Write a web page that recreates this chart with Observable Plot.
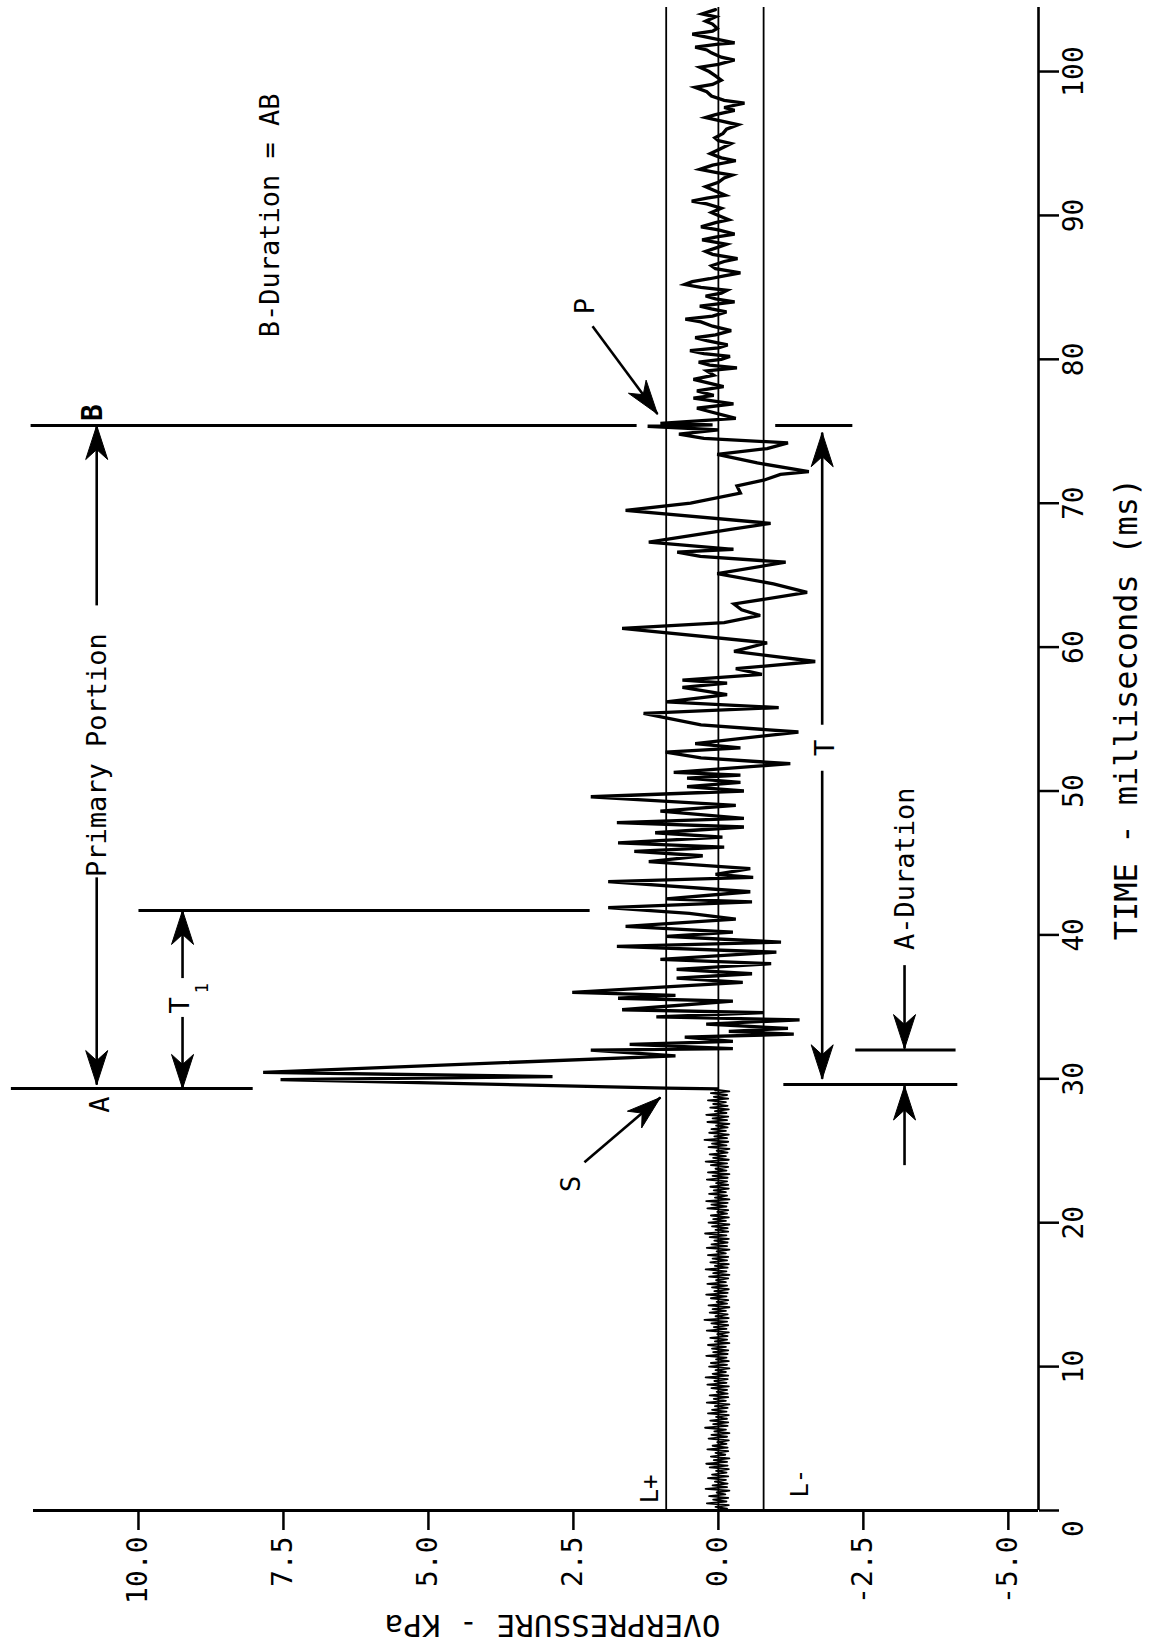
<!DOCTYPE html>
<html><head><meta charset="utf-8">
<script src="https://cdn.jsdelivr.net/npm/d3@7"></script>
<script src="https://cdn.jsdelivr.net/npm/@observablehq/plot@0.6"></script>
<style>
html,body{margin:0;padding:0;background:#fff;}
#chart{width:1152px;height:1648px;overflow:hidden;}
</style></head><body><div id="chart"></div>
<script>
// ---------- data ----------
const pressureTicks = [10, 7.5, 5, 2.5, 0, -2.5, -5];
const timeTicks = [0, 10, 20, 30, 40, 50, 60, 70, 80, 90, 100];
const limitLevels = [0.9, 0, -0.78]; // L+, baseline, L-
const xDomain = [11.81, -5.52];
const yDomain = [0, 104.45];

// pre-shock background noise, sampled every preStep ms from 0
const preStep = 0.125;
const prePressure = [
0.12,-0.15,0.05,-0.18,0.20,-0.14,0.09,-0.17,0.16,-0.12,
0.03,-0.19,0.22,-0.15,0.10,-0.16,0.06,-0.13,0.18,-0.17,
0.11,-0.14,0.04,-0.18,0.15,-0.16,0.21,-0.15,0.08,-0.19,
0.13,-0.12,0.05,-0.17,0.19,-0.16,0.10,-0.14,0.02,-0.18,
0.17,-0.15,0.12,-0.19,0.07,-0.13,0.23,-0.16,0.09,-0.17,
0.14,-0.15,0.04,-0.18,0.18,-0.14,0.11,-0.16,0.06,-0.19,
0.20,-0.13,0.08,-0.17,0.15,-0.16,0.03,-0.15,0.12,-0.18,
0.19,-0.14,0.07,-0.16,0.22,-0.17,0.10,-0.13,0.05,-0.19,
0.16,-0.15,0.13,-0.18,0.04,-0.14,0.21,-0.16,0.09,-0.17,
0.11,-0.13,0.18,-0.19,0.06,-0.15,0.14,-0.16,0.02,-0.18,
0.20,-0.14,0.08,-0.17,0.12,-0.15,0.24,-0.18,0.05,-0.16,
0.15,-0.13,0.10,-0.19,0.17,-0.15,0.03,-0.17,0.13,-0.14,
0.21,-0.16,0.07,-0.18,0.11,-0.15,0.19,-0.13,0.04,-0.17,
0.16,-0.19,0.09,-0.14,0.22,-0.16,0.06,-0.18,0.14,-0.15,
0.10,-0.17,0.18,-0.13,0.03,-0.19,0.20,-0.15,0.12,-0.16,
0.07,-0.18,0.15,-0.14,0.23,-0.17,0.05,-0.16,0.11,-0.19,
0.17,-0.13,0.09,-0.18,0.13,-0.15,0.02,-0.17,0.19,-0.14,
0.12,-0.16,0.21,-0.19,0.06,-0.15,0.16,-0.13,0.08,-0.18,
0.14,-0.17,0.04,-0.15,0.20,-0.16,0.10,-0.19,0.18,-0.14,
0.05,-0.17,0.13,-0.15,0.22,-0.18,0.09,-0.13,0.15,-0.16,
0.03,-0.19,0.17,-0.14,0.11,-0.17,0.24,-0.15,0.07,-0.18,
0.16,-0.13,0.12,-0.16,0.04,-0.19,0.19,-0.15,0.10,-0.17,
0.21,-0.14,0.06,-0.18,0.14,-0.16,0.09,-0.13,0.18,-0.17,
0.08,-0.15,0.13,-0.19,0.05];

// blast record after the shock: [time ms, overpressure kPa]
const postRecord = [
[29.3,0.0],[29.35,0.9],[29.95,7.55],[30.15,2.86],[30.45,7.85],[31.6,0.74],[32.0,2.2],[32.1,-0.25],
[32.4,1.53],[32.6,-0.25],[32.9,0.58],[33.1,-1.3],[33.3,-0.18],[33.5,-1.2],[33.8,0.21],[34.1,-1.4],
[34.3,1.07],[34.6,-0.78],[34.8,1.66],[35.4,-0.25],[35.6,1.73],[35.8,0.74],[36.0,2.52],[36.7,-0.42],
[37.0,0.72],[37.3,-0.58],[37.6,0.72],[38.0,-0.91],[38.3,1.0],[38.8,-1.0],[39.2,1.75],[39.5,-1.08],
[39.9,0.9],[40.2,-0.25],[40.6,1.6],[41.1,-0.3],[41.5,0.5],[41.9,1.9],[42.3,-0.58],[42.5,0.9],
[43.0,-0.55],[43.7,1.9],[44.0,-0.6],[44.2,0.05],[44.6,-0.55],[45.1,1.2],[45.5,0.27],[45.8,1.45],
[46.1,-0.1],[46.4,1.73],[46.8,-0.07],[47.1,1.09],[47.5,-0.44],[47.8,1.75],[48.1,-0.44],[48.6,1.0],
[49.0,-0.3],[49.6,2.2],[50.0,-0.44],[50.3,0.54],[50.6,-0.38],[50.9,0.54],[51.1,-0.38],[51.3,0.77],
[51.9,-1.24],[52.3,0.3],[52.7,0.91],[53.0,-0.38],[53.3,0.4],[54.1,-1.38],[54.6,0.3],[55.4,1.29],
[55.8,-1.04],[56.2,0.9],[56.7,-0.15],[57.2,0.62],[57.5,-0.15],[57.7,0.62],[58.1,-0.75],[58.5,-0.3],
[59.0,-1.67],[59.7,-0.27],[60.3,-0.84],[61.3,1.66],[61.7,-0.1],[62.2,-0.72],[62.6,-0.4],[63.0,-0.27],
[63.8,-1.53],[64.4,-0.95],[65.1,0.02],[65.9,-1.16],[66.3,0.31],[66.6,0.71],[66.8,-0.26],[67.3,1.2],
[68.2,-0.24],[68.6,-0.9],[69.5,1.6],[70.0,0.48],[70.7,-0.38],[71.2,-0.32],[71.6,-0.78],[72.0,-1.07],
[72.2,-1.56],[72.8,-0.67],[73.4,0.02],[73.8,-0.84],[74.2,-1.2],[74.5,0.25],[74.8,0.68],[75.1,0.0],
[75.35,1.22],[75.45,0.1],[75.55,1.0],[75.9,-0.3],[76.6,0.37],[76.9,-0.26],[77.3,0.43],[77.5,0.08],
[77.8,0.37],[78.1,-0.09],[78.6,0.43],[78.9,0.08],[79.2,0.2],[79.4,-0.32],[79.6,0.15],[79.8,0.34],
[80.0,-0.05],[80.2,-0.2],[80.4,0.25],[80.6,0.49],[80.8,0.0],[81.0,-0.16],[81.3,0.2],[81.5,0.4],
[81.7,0.05],[82.0,-0.22],[82.3,0.1],[82.6,0.3],[82.8,0.57],[83.0,0.1],[83.3,-0.14],[83.5,0.12],
[83.7,0.32],[84.0,-0.28],[84.2,0.05],[84.4,0.22],[84.6,-0.05],[84.8,-0.15],[85.0,0.3],[85.2,0.58],
[85.4,0.45],[85.6,0.15],[85.8,-0.1],[86.0,-0.38],[86.3,0.05],[86.5,0.12],[86.8,-0.1],[87.0,-0.33],
[87.3,0.1],[87.5,0.22],[87.8,0.0],[88.0,-0.14],[88.3,0.28],[88.5,0.05],[88.7,-0.28],[89.0,0.0],
[89.2,0.3],[89.5,0.05],[89.7,-0.18],[90.0,0.0],[90.2,0.12],[90.5,-0.05],[90.8,0.2],[91.0,0.46],
[91.2,0.2],[91.4,-0.12],[91.7,0.05],[92.0,0.22],[92.3,0.0],[92.6,-0.1],[92.8,-0.24],[93.0,0.05],
[93.2,0.32],[93.5,0.1],[93.8,-0.3],[94.0,-0.05],[94.3,0.14],[94.6,-0.02],[95.0,-0.22],[95.2,0.0],
[95.4,0.06],[95.7,-0.08],[96.0,-0.14],[96.3,-0.34],[96.6,0.0],[96.8,0.22],[97.0,0.05],[97.3,-0.28],
[97.5,-0.1],[97.8,-0.45],[98.0,-0.1],[98.3,0.12],[98.6,0.2],[98.9,0.4],[99.1,0.1],[99.4,-0.05],
[99.7,0.05],[100.0,0.16],[100.3,0.32],[100.5,0.0],[100.8,-0.28],[101.0,-0.05],[101.3,0.12],[101.5,0.2],
[101.7,0.4],[101.9,0.0],[102.0,-0.28],[102.3,0.1],[102.6,0.45],[102.8,0.1],[103.0,0.02],[103.3,0.1],
[103.5,0.22],[103.8,0.05],[104.0,0.28],[104.3,0.05]];

// annotation geometry in data units (pressure kPa, time ms)
const segName = ["A", "B", "T1", "T top", "T bottom", "A-Duration top"];
const segTime = [29.33, 75.4, 41.7, 75.4, 29.6, 32.0];
const segFrom = [12.2, 11.86, 10.0, -0.98, -1.12, -2.36];
const segTo   = [8.03, 1.41, 2.22, -2.31, -4.12, -4.09];

const arrowName = ["Primary up","Primary down","T1 up","T1 down","T up","T down","A-Dur down","A-Dur up","P","S"];
const arrowTailP = [10.72, 10.72, 9.24, 9.24, -1.79, -1.79, -3.21, -3.21, 2.17, 2.31];
const arrowTailT = [62.9, 44.0, 37.0, 34.3, 54.6, 51.4, 37.9, 24.0, 82.3, 24.2];
const arrowTipP  = [10.72, 10.72, 9.24, 9.24, -1.79, -1.79, -3.21, -3.21, 1.05, 1.0];
const arrowTipT  = [75.4, 29.6, 41.7, 29.33, 74.9, 30.0, 32.1, 29.5, 76.2, 28.7];

const labelText = ["A", "Primary Portion", "B-Duration = AB", "P", "S", "T", "A-Duration", "T"];
const labelP    = [10.66, 10.71, 7.72, 2.3, 2.53, -1.85, -3.22, 9.28];
const labelT    = [28.2, 52.5, 90.0, 83.7, 22.7, 53.0, 44.6, 35.1];
const boldText = ["B"], boldP = [10.78], boldT = [76.3];
const subText = ["1"], subP = [8.9], subT = [36.3];
const limText = ["L+", "L-"], limP = [1.17, -1.41], limT = [1.5, 1.9];
const xLabel = "OVERPRESSURE - KPa", xLabelP = 2.86;
const yLabel = "TIME - milliseconds (ms)", yLabelT = 55.7;

// ---------- build ----------
const W = 1152, H = 1648, mL = 33, mR = 114, mT = 7, mB = 138;
const font = "'DejaVu Sans Mono', monospace";

const pre = prePressure.map((p, i) => ({t: i * preStep, p}));
const post = [pre[pre.length - 1]].concat(postRecord.map(([t, p]) => ({t, p})));
const segs = segName.map((n, i) => ({n, t: segTime[i], p1: segFrom[i], p2: segTo[i]}));
const arrows = arrowName.map((n, i) => ({n, p1: arrowTailP[i], t1: arrowTailT[i], p2: arrowTipP[i], t2: arrowTipT[i]}));
const labels = labelText.map((text, i) => ({text, p: labelP[i], t: labelT[i]}));

const xs = Plot.scale({x: {domain: xDomain, range: [mL, W - mR]}});
const ys = Plot.scale({y: {domain: yDomain, range: [H - mB, mT]}});
function head(a, id) {
  const len = 34, half = 11, notch = 10;
  const tx = xs.apply(a.p2), ty = ys.apply(a.t2), sx = xs.apply(a.p1), sy = ys.apply(a.t1);
  const L = Math.hypot(tx - sx, ty - sy), ux = (tx - sx) / L, uy = (ty - sy) / L, nx = -uy, ny = ux;
  const bx = tx - ux * len, by = ty - uy * len;
  const pts = [[tx, ty], [bx + nx * half, by + ny * half], [tx - ux * (len - notch), ty - uy * (len - notch)], [bx - nx * half, by - ny * half], [tx, ty]];
  return pts.map(([x, y]) => ({id, p: xs.invert(x), t: ys.invert(y)}));
}
const heads = arrows.flatMap((a, i) => head(a, i));

const chart = Plot.plot({
  width: W, height: H,
  marginLeft: mL, marginRight: mR, marginTop: mT, marginBottom: mB,
  style: {fontFamily: font, background: "white", color: "black"},
  x: {domain: xDomain, axis: null},
  y: {domain: yDomain, axis: null},
  marks: [
    Plot.ruleX(limitLevels, {strokeWidth: 1.8}),
    Plot.ruleY([yDomain[0]], {strokeWidth: 3}),
    Plot.ruleX([xDomain[1]], {strokeWidth: 2.6}),
    Plot.axisX(pressureTicks, {anchor: "bottom", tickSize: 20, tickPadding: 6, tickRotate: -90,
      tickFormat: d => d.toFixed(1), fontSize: 28, strokeWidth: 2.5, label: null}),
    Plot.axisY(timeTicks, {anchor: "right", tickSize: 20, tickPadding: 5, tickRotate: -90,
      textAnchor: "middle", lineAnchor: "top", tickFormat: d => d === 0 ? "" : String(d),
      fontSize: 28, strokeWidth: 2.5, label: null}),
    Plot.text(["0"], {frameAnchor: "bottom-right", dx: 25, dy: 18, rotate: -90, textAnchor: "middle", lineAnchor: "top", fontSize: 28}),
    Plot.text([yLabel], {frameAnchor: "right", y: () => yLabelT, dx: 76, rotate: -90, textAnchor: "middle", lineAnchor: "top", fontSize: 32}),
    Plot.text([xLabel], {frameAnchor: "bottom", x: () => xLabelP, dy: 104, rotate: 180, textAnchor: "middle", fontSize: 31}),
    Plot.line(pre, {x: "p", y: "t", strokeWidth: 1.8, curve: "linear"}),
    Plot.line(post, {x: "p", y: "t", strokeWidth: 3.3, curve: "linear", strokeLinejoin: "miter", strokeMiterlimit: 4}),
    Plot.link(segs, {x1: "p1", x2: "p2", y1: "t", y2: "t", strokeWidth: 3}),
    Plot.link(arrows, {x1: "p1", y1: "t1", x2: "p2", y2: "t2", strokeWidth: 2.6}),
    Plot.line(heads, {x: "p", y: "t", z: "id", fill: "black", stroke: "black", strokeWidth: 1}),
    Plot.text(labels, {x: "p", y: "t", text: "text", rotate: -90, fontSize: 27}),
    Plot.text(boldText, {x: () => boldP[0], y: () => boldT[0], rotate: -90, fontSize: 28, fontWeight: "bold"}),
    Plot.text(subText, {x: () => subP[0], y: () => subT[0], rotate: -90, fontSize: 17}),
    Plot.text(limText, {x: (d, i) => limP[i], y: (d, i) => limT[i], rotate: -90, fontSize: 24})
  ]
});
document.getElementById("chart").append(chart);
</script></body></html>
